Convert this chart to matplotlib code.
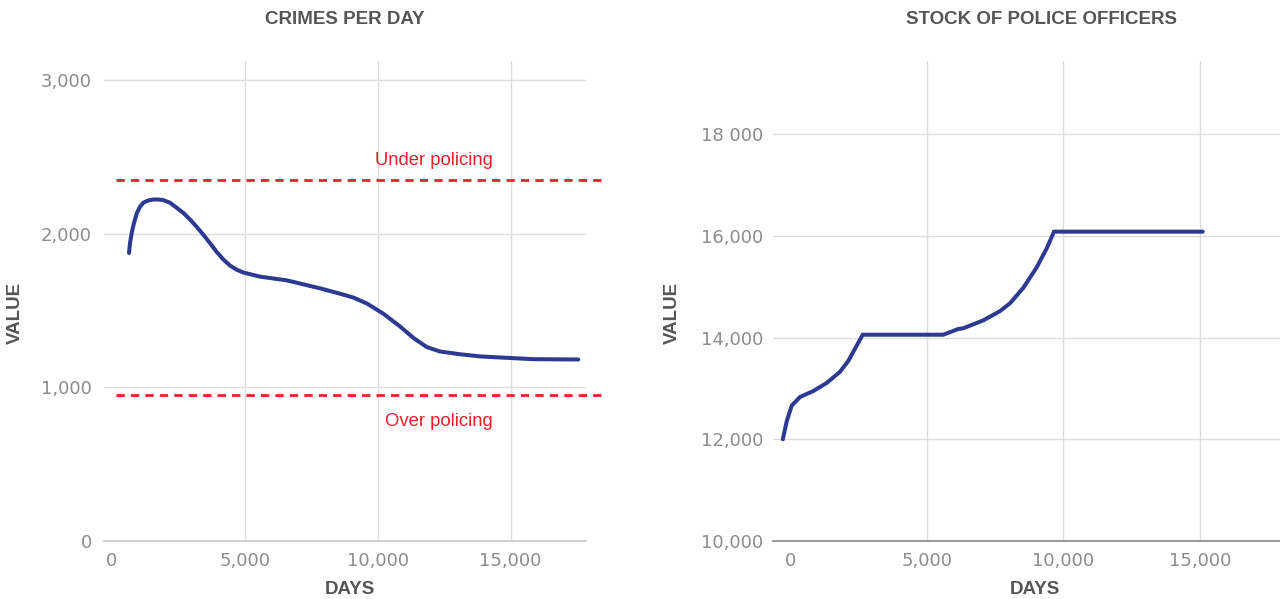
import matplotlib
matplotlib.use("Agg")
import matplotlib.pyplot as plt
from matplotlib.ticker import FixedLocator

# ---------------- data ----------------
crime_days = [654, 692, 756, 842, 944, 1068, 1192, 1380, 1568, 1756, 1944, 2195,
              2447, 2695, 2947, 3199, 3447, 3699, 3951, 4199, 4451, 4703, 4951,
              5579, 6583, 7835, 8586, 9086, 9590, 10214, 10842, 11342, 11846,
              12346, 13098, 13850, 14726, 15853, 17545]
crime_values = [1874, 1938, 2005, 2070, 2131, 2175, 2201, 2216, 2222, 2222, 2218,
                2201, 2168, 2135, 2092, 2044, 1993, 1938, 1881, 1832, 1792, 1765,
                1747, 1720, 1696, 1644, 1609, 1584, 1546, 1479, 1396, 1322, 1262,
                1233, 1215, 1201, 1193, 1183, 1181]

under_policing = 2350
over_policing = 950
threshold_days = [165, 18436]

police_days = [-280, -139, 44, 348, 835, 1326, 1813, 2117, 2645, 5597, 6147, 6330,
               7062, 7674, 8040, 8527, 9018, 9385, 9652, 15099]
police_values = [12000, 12351, 12660, 12831, 12948, 13107, 13326, 13540, 14055,
                 14055, 14168, 14182, 14337, 14519, 14673, 14976, 15380, 15752,
                 16081, 16081]

x_ticks = [0, 5000, 10000, 15000]
x_tick_labels = ["0", "5,000", "10,000", "15,000"]
x_grid = [5000, 10000, 15000]
crime_y_ticks = [0, 1000, 2000, 3000]
crime_y_labels = ["0", "1,000", "2,000", "3,000"]
police_y_ticks = [10000, 12000, 14000, 16000, 18000]
police_y_labels = ["10,000", "12,000", "14,000", "16,000", "18 000"]

titles = ["CRIMES PER DAY", "STOCK OF POLICE OFFICERS"]

# ---------------- style ----------------
W, H = 1280, 599
LINE = "#2d3a92"
RED = "#e8212b"
GRID = "#dcdcdc"
TICK = "#8c8c8c"
DARK = "#555555"
BOLD = dict(family="Liberation Sans", weight="bold", size=13.5, color=DARK)

fig = plt.figure(figsize=(W / 100, H / 100), dpi=100)


def px_axes(l, t, r, b):
    return [l / W, 1 - b / H, (r - l) / W, (b - t) / H]


ax1 = fig.add_axes(px_axes(104, 61, 586, 541))
ax2 = fig.add_axes(px_axes(773, 61, 1280, 541))


def style(ax, yticks, ylabels, base_color, ypad):
    ax.set_axisbelow(True)
    for s in ("top", "right", "left"):
        ax.spines[s].set_visible(False)
    ax.spines["bottom"].set_color(base_color)
    ax.spines["bottom"].set_linewidth(1.3)
    ax.xaxis.remove_overlapping_locs = False
    ax.xaxis.set_major_locator(FixedLocator(x_ticks))
    ax.set_xticklabels(x_tick_labels)
    ax.xaxis.set_minor_locator(FixedLocator(x_grid))
    ax.yaxis.set_major_locator(FixedLocator(yticks))
    ax.set_yticklabels(ylabels)
    ax.grid(False)
    ax.grid(True, which="minor", axis="x", color=GRID, lw=1.0)
    ax.grid(True, which="major", axis="y", color=GRID, lw=1.0)
    ax.tick_params(axis="both", which="both", length=0, colors=TICK,
                   labelsize=13)
    ax.tick_params(axis="x", pad=8)
    ax.tick_params(axis="y", pad=ypad)
    for lab in ax.get_xticklabels() + ax.get_yticklabels():
        lab.set_family("DejaVu Sans")


# ---------------- left chart ----------------
ax1.plot(crime_days, crime_values, color=LINE, lw=2.9, solid_capstyle="round",
         solid_joinstyle="round", zorder=3)
for v in (under_policing, over_policing):
    ax1.plot(threshold_days, [v, v], color=RED, lw=2.0, dashes=(3.0, 2.2),
             clip_on=False, zorder=2)
ax1.text(12109, 2446, "Under policing", color=RED, family="Liberation Sans",
         size=13.3, ha="center", va="baseline")
ax1.text(12308, 749, "Over policing", color=RED, family="Liberation Sans",
         size=13.3, ha="center", va="baseline")
ax1.set_xlim(-286, 17835)
ax1.set_ylim(0, 3123)
style(ax1, crime_y_ticks, crime_y_labels, "#cccccc", 8.6)

# ---------------- right chart ----------------
ax2.plot(police_days, police_values, color=LINE, lw=2.9, solid_capstyle="round",
         solid_joinstyle="miter", zorder=3)
ax2.set_xlim(-640, 17930)
ax2.set_ylim(10000, 19436)
style(ax2, police_y_ticks, police_y_labels, "#8f8f8f", 7.2)

# ---------------- labels ----------------
for ax, title, tx, xl_x, yl_x in ((ax1, titles[0], 345, 0.510, -0.166),
                                   (ax2, titles[1], 1041, 0.517, -0.181)):
    fig.text(tx / W, 1 - 24.5 / H, title, ha="center", va="baseline", **BOLD)
    ax.set_xlabel("DAYS", **BOLD)
    ax.xaxis.set_label_coords(xl_x, -0.0823)
    ax.set_ylabel("VALUE", **BOLD)
    ax.yaxis.set_label_coords(yl_x, 0.475)

fig.savefig("out.png", dpi=100, facecolor="white")
